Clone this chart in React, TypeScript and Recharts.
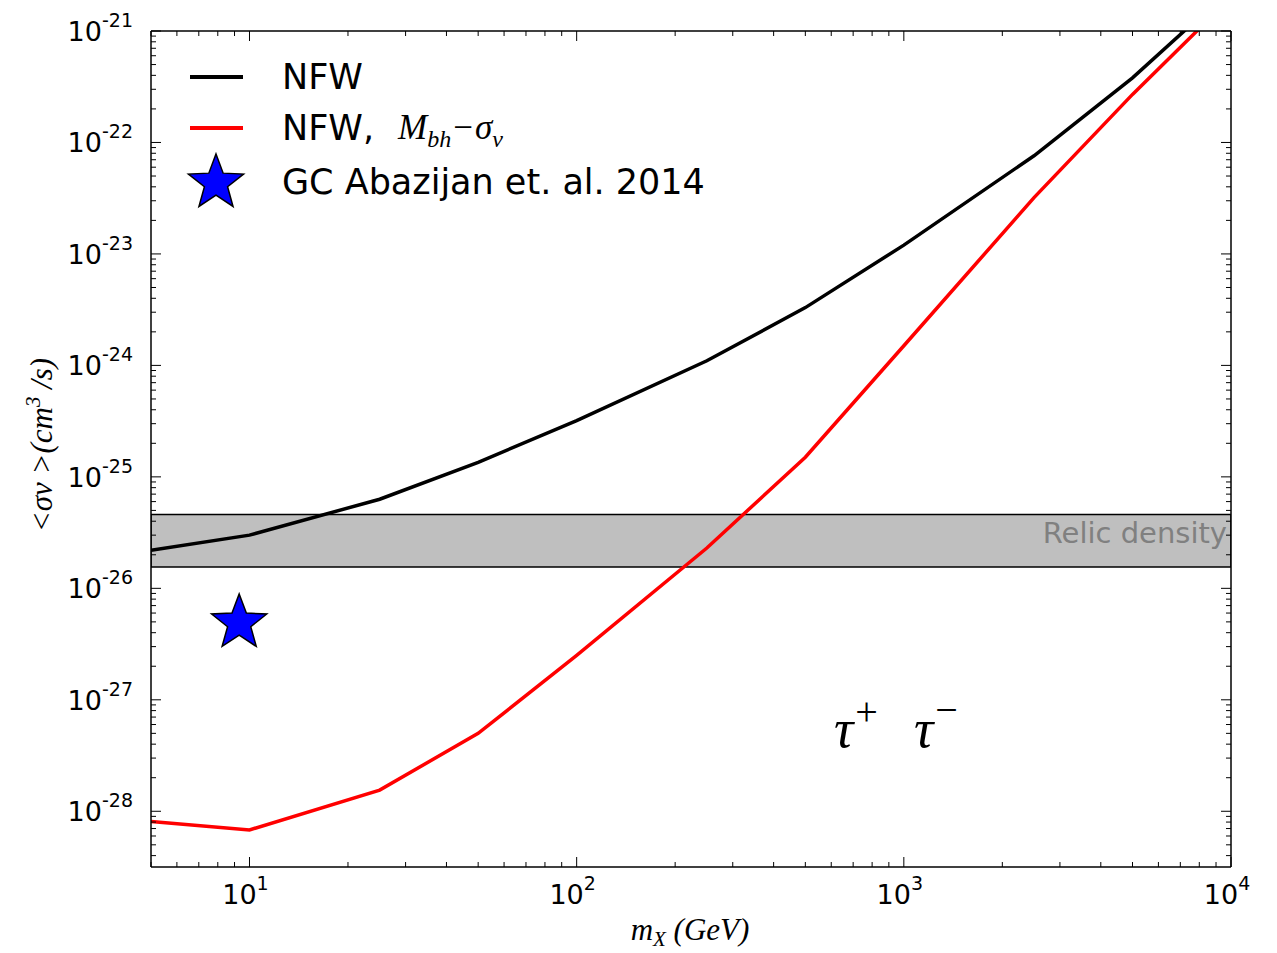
import React from 'react';
import {
    ComposedChart, Line, Scatter, XAxis, YAxis, ReferenceArea,
} from 'recharts';

// Dark matter mass (GeV)
const masses = [5, 10, 25, 50, 100, 250, 500, 1000, 2500, 5000, 10000];
// <sigma v> upper limits (cm^3/s)
const nfw = [2.2e-26, 3.0e-26, 6.3e-26, 1.35e-25, 3.2e-25, 1.1e-24, 3.3e-24, 1.2e-23, 7.6e-23, 3.8e-22, 2.4e-21];
const nfwBh = [8.1e-29, 6.8e-29, 1.55e-28, 5.0e-28, 2.5e-27, 2.3e-26, 1.5e-25, 1.5e-24, 3.2e-23, 2.7e-22, 2.0e-21];

// GC excess point
const gcPoint = [{ x: 9.3, y: 5.1e-27 }];

// relic density band
const relicLow = 1.55e-26;
const relicHigh = 4.6e-26;

const xDomain = [5, 10000];
const yDomain = [Math.pow(10, -28.5), 1e-21];

const data = masses.map((m, i) => ({ x: m, nfw: nfw[i], nfwBh: nfwBh[i] }));

// major + minor ticks (2..9 per decade) inside the domain
const logTicks = (lo: number, hi: number) => {
    const out: number[] = [];
    for (let e = Math.floor(Math.log10(lo)) - 1; e <= Math.ceil(Math.log10(hi)); e++) {
        for (let k = 1; k <= 9; k++) {
            const v = k * Math.pow(10, e);
            if (v >= lo * 0.999 && v <= hi * 1.001) out.push(v);
        }
    }
    return out;
};
const xTicks = logTicks(xDomain[0], xDomain[1]);
const yTicks = logTicks(yDomain[0], yDomain[1]);

const isMajor = (v: number) => Math.abs(Math.log10(v) - Math.round(Math.log10(v))) < 1e-6;
const exp = (v: number) => Math.round(Math.log10(v));

const TICK_FONT = '"DejaVu Sans", sans-serif';
const MATH_FONT = '"Liberation Serif", serif';

const BottomTick = (props: any) => {
    const { x, y, payload } = props;
    const major = isMajor(payload.value);
    return (
        <g>
            <line x1={x} y1={y} x2={x} y2={y - (major ? 10 : 5)} stroke="#000" strokeWidth={1} />
            {major && (
                <text x={x - 4} y={y + 37} textAnchor="middle" fontFamily={TICK_FONT} fontSize={27} fill="#000">
                    10<tspan dy={-14} fontSize={19}>{exp(payload.value)}</tspan>
                </text>
            )}
        </g>
    );
};

const TopTick = (props: any) => {
    const { x, y, payload } = props;
    const major = isMajor(payload.value);
    return <line x1={x} y1={y} x2={x} y2={y + (major ? 10 : 5)} stroke="#000" strokeWidth={1} />;
};

const LeftTick = (props: any) => {
    const { x, y, payload } = props;
    const major = isMajor(payload.value);
    return (
        <g>
            <line x1={x} y1={y} x2={x + (major ? 10 : 5)} y2={y} stroke="#000" strokeWidth={1} />
            {major && (
                <text x={x - 18} y={y + 10} textAnchor="end" fontFamily={TICK_FONT} fontSize={27} fill="#000">
                    10<tspan dy={-14} fontSize={19}>{exp(payload.value)}</tspan>
                </text>
            )}
        </g>
    );
};

const RightTick = (props: any) => {
    const { x, y, payload } = props;
    const major = isMajor(payload.value);
    return <line x1={x} y1={y} x2={x - (major ? 10 : 5)} y2={y} stroke="#000" strokeWidth={1} />;
};

const starPath = (cx: number, cy: number, r: number) => {
    const pts: string[] = [];
    const inner = r * 0.42;
    for (let i = 0; i < 10; i++) {
        const rad = i % 2 === 0 ? r : inner;
        const a = -Math.PI / 2 + (i * Math.PI) / 5;
        pts.push(`${cx + rad * Math.cos(a)},${cy + rad * Math.sin(a)}`);
    }
    return `M${pts.join('L')}Z`;
};

const StarShape = (props: any) => (
    <path d={starPath(props.cx, props.cy + 2, 29)} fill="#0000ff" stroke="#000" strokeWidth={1.5} />
);

const W = 1260;
const H = 945;

const App: React.FC = () => {
    return (
        <div style={{ position: 'relative', width: W, height: H, background: '#fff' }}>
            <ComposedChart
                width={W}
                height={H}
                data={data}
                margin={{ top: 22, right: 36, bottom: 85, left: 142 }}
            >
                <XAxis
                    xAxisId="b" dataKey="x" type="number" scale="log" domain={xDomain}
                    allowDataOverflow ticks={xTicks} interval={0} height={1}
                    tickSize={0} tickMargin={0} tickLine={false}
                    axisLine={{ stroke: '#000', strokeWidth: 1.5 }} tick={<BottomTick />}
                />
                <XAxis
                    xAxisId="t" orientation="top" dataKey="x" type="number" scale="log" domain={xDomain}
                    allowDataOverflow ticks={xTicks} interval={0} height={1}
                    tickSize={0} tickMargin={0} tickLine={false}
                    axisLine={{ stroke: '#000', strokeWidth: 1.5 }} tick={<TopTick />}
                />
                <YAxis
                    yAxisId="l" type="number" scale="log" domain={yDomain}
                    allowDataOverflow ticks={yTicks} interval={0} width={1}
                    tickSize={0} tickMargin={0} tickLine={false}
                    axisLine={{ stroke: '#000', strokeWidth: 1.5 }} tick={<LeftTick />}
                />
                <YAxis
                    yAxisId="r" orientation="right" type="number" scale="log" domain={yDomain}
                    allowDataOverflow ticks={yTicks} interval={0} width={1}
                    tickSize={0} tickMargin={0} tickLine={false}
                    axisLine={{ stroke: '#000', strokeWidth: 1.5 }} tick={<RightTick />}
                />
                <ReferenceArea
                    xAxisId="b" yAxisId="l" y1={relicLow} y2={relicHigh}
                    fill="#bfbfbf" fillOpacity={1} stroke="#000" strokeWidth={1.5}
                    ifOverflow="hidden"
                />
                <Line
                    xAxisId="b" yAxisId="l" dataKey="nfw" stroke="#000" strokeWidth={3.5}
                    dot={false} isAnimationActive={false} type="linear"
                />
                <Line
                    xAxisId="b" yAxisId="l" dataKey="nfwBh" stroke="#ff0000" strokeWidth={3.5}
                    dot={false} isAnimationActive={false} type="linear"
                />
                <Scatter
                    xAxisId="b" yAxisId="l" data={gcPoint} dataKey="y"
                    shape={<StarShape />} isAnimationActive={false}
                />
            </ComposedChart>
            <svg
                width={W}
                height={H}
                style={{ position: 'absolute', left: 0, top: 0, pointerEvents: 'none' }}
            >
                {/* legend */}
                <line x1={182} y1={69} x2={235} y2={69} stroke="#000" strokeWidth={4} />
                <text x={274} y={81} fontFamily={TICK_FONT} fontSize={35} fill="#000">NFW</text>
                <line x1={182} y1={120} x2={235} y2={120} stroke="#ff0000" strokeWidth={4} />
                <text x={274} y={132} fontFamily={TICK_FONT} fontSize={35} fill="#000">NFW,</text>
                <text x={390} y={131} fontFamily={MATH_FONT} fontStyle="italic" fontSize={35} fill="#000">
                    M<tspan dy={8} fontSize={24}>bh</tspan><tspan dy={-8} dx={2} fontStyle="normal">−</tspan><tspan dx={2}>σ</tspan><tspan dy={8} fontSize={24}>v</tspan>
                </text>
                <path d={starPath(208, 175, 29)} fill="#0000ff" stroke="#000" strokeWidth={1.5} />
                <text x={274} y={186} fontFamily={TICK_FONT} fontSize={35} fill="#000">GC Abazijan et. al. 2014</text>

                {/* relic band label */}
                <text x={1219} y={535} textAnchor="end" fontFamily={TICK_FONT} fontSize={29} fill="#808080">Relic density</text>

                {/* channel */}
                <text x={826} y={739} fontFamily={MATH_FONT} fontStyle="italic" fontSize={54} fill="#000">
                    τ<tspan dy={-22} dx={2} fontSize={40} fontStyle="normal">+</tspan>
                    <tspan dy={22} dx={36}>τ</tspan><tspan dy={-24} dx={2} fontSize={40} fontStyle="normal">−</tspan>
                </text>

                {/* axis labels */}
                <text x={682} y={932} textAnchor="middle" fontFamily={MATH_FONT} fontStyle="italic" fontSize={31} fill="#000">
                    m<tspan dy={6} fontSize={21}>X</tspan><tspan dy={-6}> (GeV)</tspan>
                </text>
                <text
                    transform="translate(44,437) rotate(-90)"
                    textAnchor="middle" fontFamily={MATH_FONT} fontStyle="italic" fontSize={31} fill="#000"
                >
                    &lt;σv &gt;(cm<tspan dy={-12} fontSize={21}>3</tspan><tspan dy={12}> /s)</tspan>
                </text>
            </svg>
        </div>
    );
};

export default App;
